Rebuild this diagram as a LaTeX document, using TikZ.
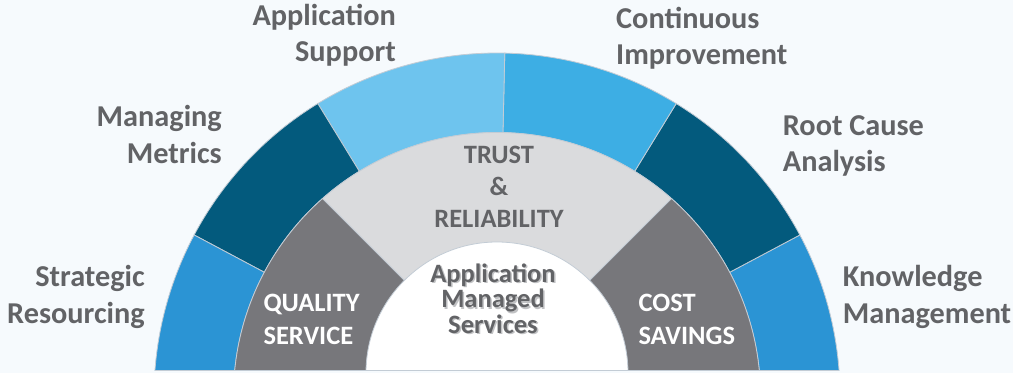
\documentclass[tikz,border=0pt]{standalone}
\usepackage{fontspec}
\setmainfont{Carlito}
\usetikzlibrary{calc, positioning}

\definecolor{bgcol}{HTML}{F6FAFD}
\definecolor{blueMid}{HTML}{2B94D4}
\definecolor{blueDark}{HTML}{035A7D}
\definecolor{blueSky}{HTML}{3DAEE4}
\definecolor{blueLight}{HTML}{6EC4EE}
\definecolor{grayDark}{HTML}{77777B}
\definecolor{grayLight}{HTML}{DADBDD}
\definecolor{textgray}{HTML}{626366}
\definecolor{edgecol}{HTML}{C3CCD5}
\definecolor{shadowgray}{HTML}{A8A9AC}

\begin{document}
\begin{tikzpicture}[x=1pt, y=1pt,
    outlab/.style={font=\fontsize{30.3}{36.5}\selectfont\bfseries, text=textgray, inner sep=0pt},
    inlab/.style={font=\fontsize{26.5}{32.5}\selectfont\bfseries, text=white, inner sep=0pt},
    amslab/.style={font=\fontsize{26.5}{25.5}\selectfont\bfseries, text=textgray, inner sep=0pt, align=center},
    segedge/.style={draw=edgecol, line width=0.8pt}]

    % page and background
    \fill[bgcol] (0,0) rectangle (1013,373);
    \useasboundingbox (0,0) rectangle (1013,373);

    \coordinate (c1) at (497,-23);
    \coordinate (c2) at (497,0);

    \begin{scope}
      \clip (0,3) rectangle (1013,373);
      % outer ring of six blue segments
      \foreach \a/\b/\col in {-10/28/blueMid, 28/58.5/blueDark, 58.5/88.7/blueSky,
                              88.7/121.5/blueLight, 121.5/152/blueDark, 152/190/blueMid}
        \filldraw[fill=\col, segedge] ($(c1)+(\a:263.5)$) arc[start angle=\a, end angle=\b, radius=263.5]
          -- ($(c1)+(\b:343)$) arc[start angle=\b, end angle=\a, radius=343] -- cycle;

      % middle ring
      \fill[grayLight] (c1) circle[radius=263.5];
      \begin{scope}
        \clip (c1) circle[radius=263.5];
        \fill[grayDark] (c2) -- ($(c2)+(135:400)$) -- ($(c2)+(180:400)$) -- cycle;
        \fill[grayDark] (c2) -- ($(c2)+(45:400)$) -- ($(c2)+(0:400)$) -- cycle;
        \draw[segedge] (c2) -- ($(c2)+(135:400)$);
        \draw[segedge] (c2) -- ($(c2)+(45:400)$);
      \end{scope}
      \draw[segedge] (c1) circle[radius=263.5];

      % centre
      \filldraw[fill=white, segedge] (c2) circle[radius=131];
    \end{scope}
    \draw[segedge] (155,3) -- (839,3);

    % labels round the ring (base = last line)
    \node[outlab, align=right, anchor=base east] (appsup) at (396,311) {Application\\Support};
    \node[outlab, align=right, anchor=base east] (metrics) at (222,210) {Managing\\Metrics};
    \node[outlab, align=right, anchor=base east] (strat) at (145,50) {Strategic\\Resourcing};
    \node[outlab, align=left, anchor=base west] (contimp) at (616,308) {Continuous\\Improvement};
    \node[outlab, align=left, anchor=base west] (rootcause) at (782.7,201.3) {Root Cause\\Analysis};
    \node[outlab, align=left, anchor=base west] (knowl) at (842.7,49.7) {Knowledge\\Management};

    % labels in the middle ring
    \node[inlab, align=left, anchor=base west] (quality) at (263.3,29) {QUALITY\\SERVICE};
    \node[inlab, align=left, anchor=base west] (cost) at (638.3,29) {COST\\SAVINGS};
    \node[inlab, align=center, anchor=base, text=textgray, font=\fontsize{26.5}{31.7}\selectfont\bfseries]
      (trust) at (499,146) {TRUST\\\&\\RELIABILITY};

    % centre text with its shadow
    \node[amslab, anchor=base, text=shadowgray, opacity=0.7] (amsshadow) at (494.5,38.2) {Application\\Managed\\Services};
    \node[amslab, anchor=base] (ams) at (493,39.7) {Application\\Managed\\Services};

\end{tikzpicture}
\end{document}
